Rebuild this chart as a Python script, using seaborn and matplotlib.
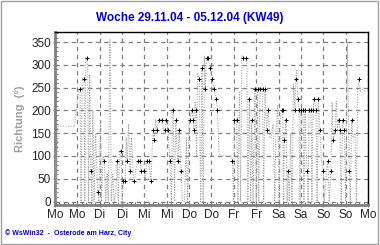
import matplotlib
matplotlib.use("Agg")
import matplotlib.pyplot as plt
import matplotlib.ticker as mticker
import seaborn as sns
import pandas as pd

title = "Woche 29.11.04 - 05.12.04 (KW49)"
day_labels = ["Mo", "Mo", "Di", "Di", "Mi", "Mi", "Do", "Do", "Fr", "Fr",
              "Sa", "Sa", "So", "So", "Mo"]

# dotted line: hours since Monday 00:00, direction in degrees
line_h = [0, 0.8, 1.5, 10.5, 12.5, 13.4, 14, 14.6, 15.6, 16, 16.5, 17.0, 17.5, 18, 18.6,
          19.3, 19.8, 20.3, 21, 21.8, 22.9, 23.5, 24.5, 25, 25.8, 26.5, 27.2, 28, 28.6,
          29.5, 30.2, 31, 31.8, 32.6, 33.4, 34, 34.7, 35.4, 36, 36.7, 37.7, 38.2, 38.8,
          39.5, 40.3, 41, 41.5, 42, 42.6, 43.4, 44.4, 45.6, 46.2, 47.9, 48.5, 49.2, 50.4,
          51, 51.5, 52.2, 52.8, 53.3, 54, 54.6, 55.8, 57.6, 58.2, 58.9, 59.6, 60.6, 61.2,
          61.7, 62.5, 63, 63.5, 64.2, 64.8, 65.4, 65.9, 66.7, 67.2, 67.6, 68.4, 69.5,
          70.5, 71.2, 72, 72.5, 73.4, 74.2, 74.6, 75.2, 75.5, 76, 76.5, 77.4, 78.2, 78.9,
          79.5, 80.2, 80.7, 81.4, 82.3, 83.2, 84.4, 85.3, 86.5, 87.2, 88, 88.5, 94.5,
          95.2, 95.8, 96.2, 97.5, 98.2, 99, 99.6, 100.3, 101.1, 102.3, 103, 103.5, 104.3,
          105, 105.6, 106.3, 107.3, 108, 108.7, 109.3, 110, 111.4, 112, 112.7, 113.6,
          114.5, 115.2, 116, 117, 118, 118.5, 119.5, 120.3, 121, 121.7, 122.2, 122.6,
          123.1, 124, 124.6, 125.2, 125.8, 126.5, 127.2, 128, 128.8, 129.2, 129.8, 130.3,
          131, 131.5, 132, 133.1, 133.6, 134.2, 134.8, 135.4, 135.9, 136.3, 137.4, 137.9,
          138.5, 139.2, 140.1, 140.7, 141.3, 142.2, 143, 144, 144.5, 145.5, 146.4, 147.2,
          148.1, 148.7, 149.4, 150.3, 151, 151.6, 152.4, 152.9, 153.6, 154.4, 155.3, 156,
          157, 157.9, 158.5, 159.2, 160, 161, 161.8, 162.5, 163.2, 164, 165.5, 167]
line_v = [110, 0, 165, 165, 240, 248, 0, 270, 270, 0, 316, 316, 300, 0, 280,
          68, 0, 200, 0, 150, 20, 0, 180, 0, 100, 89, 0, 60, 0,
          355, 0, 60, 0, 20, 89, 0, 112, 112, 0, 46, 46, 140, 89,
          170, 68, 140, 110, 46, 46, 70, 89, 89, 68, 68, 46, 89, 89,
          60, 46, 120, 158, 136, 180, 158, 180, 180, 158, 158, 180, 158, 120,
          89, 0, 202, 202, 0, 180, 120, 89, 158, 100, 68, 0, 0,
          140, 0, 180, 180, 202, 180, 158, 220, 202, 100, 280, 270, 0, 292,
          0, 320, 248, 316, 316, 292, 270, 248, 226, 202, 110, 100, 100,
          90, 0, 180, 180, 0, 240, 0, 320, 316, 316, 300, 0, 226,
          0, 180, 0, 248, 0, 248, 0, 248, 248, 0, 248, 158,
          202, 140, 140, 170, 0, 150, 210, 0, 190, 202, 202, 0,
          136, 180, 0, 68, 0, 150, 0, 260, 202, 270, 290, 226,
          202, 0, 202, 202, 0, 202, 100, 68, 0, 202, 202, 0,
          202, 226, 202, 0, 226, 158, 90, 68, 0, 60, 90, 0,
          68, 218, 136, 158, 220, 158, 180, 158, 0, 180, 158, 0,
          350, 68, 0, 180, 140, 150, 0, 250, 270, 240, 250, 240]

# '+' markers
mark_h = [13.4, 15.6, 17.0, 19.3, 22.9, 26.5, 33.4, 35.4, 36.7, 37.7, 38.8, 40.3, 42.6,
          44.4, 45.6, 46.2, 47.9, 49.2, 50.4, 51.5, 52.8, 53.3, 54.6, 55.8, 57.6, 58.9,
          59.6, 60.6, 61.7, 63.5, 64.8, 65.9, 66.7, 67.6, 72.5, 73.4, 74.2, 74.6, 75.5,
          77.4, 78.9, 80.7, 81.4, 82.3, 83.2, 84.4, 85.3, 86.5, 87.2, 95.2, 96.2, 97.5,
          101.1, 102.3, 104.3, 105.6, 107.3, 108.7, 110, 111.4, 112.7, 113.6, 114.5,
          121.7, 122.2, 123.1, 124, 125.2, 128.8, 129.2, 130.3, 131, 132, 133.1, 134.2,
          135.4, 136.3, 137.4, 138.5, 139.2, 140.1, 141.3, 142.2, 144, 146.4, 148.1,
          149.4, 150.3, 152.4, 152.9, 154.4, 155.3, 157.9, 159.2, 163.2]
mark_v = [248, 270, 316, 68, 20, 89, 89, 112, 46, 46, 89, 68, 46,
          89, 89, 68, 68, 89, 89, 46, 158, 136, 158, 180, 180, 158,
          180, 158, 89, 202, 180, 89, 158, 68, 180, 202, 180, 158, 202,
          270, 292, 248, 316, 316, 292, 270, 248, 226, 202, 90, 180, 180,
          316, 316, 226, 180, 248, 248, 248, 248, 248, 158, 202,
          202, 202, 136, 180, 68, 202, 270, 226, 202, 202, 202, 202,
          68, 202, 202, 202, 226, 202, 226, 158, 68, 90, 68,
          136, 158, 180, 158, 180, 158, 68, 180, 270]

line_df = pd.DataFrame({"h": line_h, "v": line_v})
mark_df = pd.DataFrame({"h": mark_h, "v": mark_v})

sns.set_style("white")
plt.rcParams["font.family"] = ["Liberation Sans", "DejaVu Sans"]

fig = plt.figure(figsize=(3.8, 2.45), dpi=100)
ax = fig.add_axes([55 / 380, 1 - 204.5 / 245, (368 - 55) / 380, (204.5 - 32.5) / 245])

sns.lineplot(data=line_df, x="h", y="v", ax=ax, sort=False, color="#a8a8a8",
             linewidth=0.8, linestyle=(0, (1, 1.3)), zorder=3)
sns.scatterplot(data=mark_df, x="h", y="v", ax=ax, marker="+", color="black",
                s=8, linewidth=0.7, zorder=4)

ax.set_xlim(0, 168)
ax.set_ylim(-6.5, 371)
ax.set_xticks([12 * i for i in range(15)])
ax.set_xticklabels(day_labels)
ax.set_yticks(range(0, 351, 50))
ax.xaxis.set_minor_locator(mticker.MultipleLocator(2.4))
ax.yaxis.set_minor_locator(mticker.MultipleLocator(10))
ax.tick_params(axis="both", which="major", labelsize=8.5, length=3, width=1,
               color="#808080", direction="inout", pad=1.5)
ax.tick_params(axis="both", which="minor", length=2, width=0.8,
               color="#808080", direction="in")
ax.tick_params(axis="both", which="both", bottom=True, left=True)
ax.set_xlabel("")
ax.set_ylabel("Richtung  (°)", fontsize=8, color="#a0a0a0", fontweight="bold",
              labelpad=4)
ax.grid(True, which="major", color="#808080", linestyle=(0, (3.5, 3)), linewidth=0.9)
ax.set_axisbelow(True)

for s in ["top", "right"]:
    ax.spines[s].set_color("black")
    ax.spines[s].set_linewidth(1)
for s in ["left", "bottom"]:
    ax.spines[s].set_color("#808080")
    ax.spines[s].set_linewidth(2)

fig.text(0.5, 1 - 18 / 245, title, ha="center", va="center", fontsize=8.5,
         fontweight="bold", color="#0000e0")
fig.text(5 / 380, 1 - 233 / 245, "© WsWin32  -  Osterode am Harz, City", ha="left",
         va="center", fontsize=5, fontweight="bold", color="#0000e0")

border = plt.Rectangle((0.002, 0.003), 0.994, 0.994, transform=fig.transFigure,
                       fill=False, edgecolor="#a0a0a0", linewidth=1)
fig.patches.append(border)

fig.savefig("out.png", dpi=100, facecolor="white")
